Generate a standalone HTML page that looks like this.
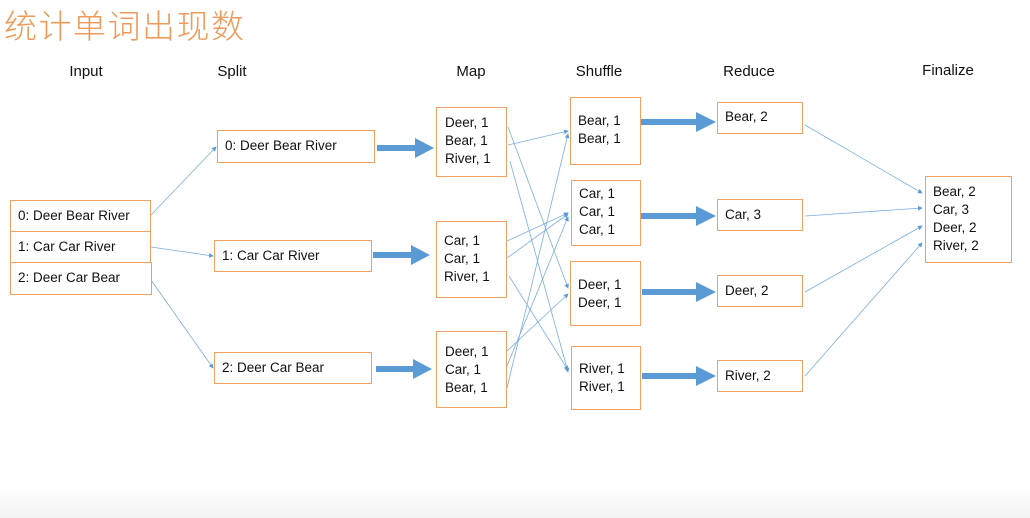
<!DOCTYPE html>
<html><head><meta charset="utf-8"><style>
body{margin:0;width:1030px;height:518px;overflow:hidden;background:#fff;position:relative;font-family:"Liberation Sans","Noto Sans CJK SC",sans-serif;}
.b{position:absolute;border:1.5px solid #f0a060;box-sizing:border-box;background:#fff;font-size:13.5px;color:#111;line-height:18px;}
.h{position:absolute;font-size:15px;color:#111;transform:translateX(-50%);}
svg{position:absolute;left:0;top:0;}
</style></head><body>
<div style="position:absolute;left:0;top:488px;width:1030px;height:30px;background:linear-gradient(#fff,#f2f2f2)"></div>
<div style="position:absolute;left:4px;top:0px;font-size:33px;color:#ee9a5a;font-family:'Noto Sans CJK SC',sans-serif;font-weight:300;letter-spacing:1.5px">统计单词出现数</div>
<div class="h" style="left:86px;top:63px">Input</div>
<div class="h" style="left:232px;top:63px">Split</div>
<div class="h" style="left:471px;top:63px">Map</div>
<div class="h" style="left:599px;top:63px">Shuffle</div>
<div class="h" style="left:749px;top:63px">Reduce</div>
<div class="h" style="left:948px;top:62px">Finalize</div>
<svg width="1030" height="518">
<defs><marker id="a" markerWidth="6" markerHeight="6" refX="5" refY="3" orient="auto"><path d="M0,0L6,3L0,6z" fill="#5b9bd5"/></marker></defs>
<g stroke="#7aaee0" stroke-width="0.8" fill="none" marker-end="url(#a)">
<line x1="151" y1="215" x2="216" y2="147"/><line x1="151" y1="247" x2="213" y2="256"/><line x1="151" y1="280" x2="213" y2="368"/>
<line x1="508" y1="127" x2="568" y2="288"/><line x1="508" y1="145" x2="568" y2="131"/><line x1="510" y1="161" x2="568" y2="372"/>
<line x1="507" y1="241" x2="568" y2="213"/><line x1="507" y1="258" x2="568" y2="214"/><line x1="509" y1="276" x2="568" y2="370"/>
<line x1="507" y1="351" x2="568" y2="294"/><line x1="507" y1="366" x2="568" y2="217"/><line x1="507" y1="388" x2="568" y2="134"/>
<line x1="805" y1="125" x2="922" y2="193"/><line x1="805" y1="216" x2="922" y2="208"/><line x1="805" y1="292" x2="922" y2="226"/><line x1="805" y1="376" x2="922" y2="243"/>
</g>
<g fill="#5b9bd5">
<path d="M377,145h38v-7l19,10l-19,10v-7h-38z"/>
<path d="M373,252h38v-7l19,10l-19,10v-7h-38z"/>
<path d="M376,366h37v-7l19,10l-19,10v-7h-37z"/>
<path d="M641,119h55v-7l20,10l-20,10v-7h-55z"/>
<path d="M641,213h55v-7l20,10l-20,10v-7h-55z"/>
<path d="M642,289h54v-7l20,10l-20,10v-7h-54z"/>
<path d="M642,373h54v-7l20,10l-20,10v-7h-54z"/>
</g>
</svg>
<div class="b" style="left:10px;top:200px;width:141px;height:32px;padding:6px 7px">0: Deer Bear River</div>
<div class="b" style="left:10px;top:231px;width:141px;height:32px;padding:6px 7px">1: Car Car River</div>
<div class="b" style="left:10px;top:262px;width:142px;height:33px;padding:6px 7px">2: Deer Car Bear</div>
<div class="b" style="left:217px;top:130px;width:158px;height:33px;padding:6px 7px">0: Deer Bear River</div>
<div class="b" style="left:214px;top:240px;width:158px;height:32px;padding:6px 7px">1: Car Car River</div>
<div class="b" style="left:214px;top:352px;width:158px;height:32px;padding:6px 7px">2: Deer Car Bear</div>
<div class="b" style="left:436px;top:107px;width:71px;height:70px;padding:6px 8px">Deer, 1<br>Bear, 1<br>River, 1</div>
<div class="b" style="left:436px;top:221px;width:71px;height:77px;padding:10px 7px">Car, 1<br>Car, 1<br>River, 1</div>
<div class="b" style="left:436px;top:331px;width:71px;height:77px;padding:11px 8px">Deer, 1<br>Car, 1<br>Bear, 1</div>
<div class="b" style="left:570px;top:97px;width:71px;height:68px;padding:14px 7px">Bear, 1<br>Bear, 1</div>
<div class="b" style="left:571px;top:180px;width:70px;height:66px;padding:4px 7px">Car, 1<br>Car, 1<br>Car, 1</div>
<div class="b" style="left:570px;top:261px;width:71px;height:65px;padding:14px 7px">Deer, 1<br>Deer, 1</div>
<div class="b" style="left:571px;top:346px;width:70px;height:64px;padding:13px 7px">River, 1<br>River, 1</div>
<div class="b" style="left:717px;top:102px;width:86px;height:32px;padding:5px 7px">Bear, 2</div>
<div class="b" style="left:717px;top:199px;width:86px;height:32px;padding:6px 7px">Car, 3</div>
<div class="b" style="left:717px;top:275px;width:86px;height:32px;padding:6px 7px">Deer, 2</div>
<div class="b" style="left:717px;top:360px;width:86px;height:32px;padding:6px 7px">River, 2</div>
<div class="b" style="left:925px;top:176px;width:87px;height:87px;padding:6px 7px">Bear, 2<br>Car, 3<br>Deer, 2<br>River, 2</div>
</body></html>
